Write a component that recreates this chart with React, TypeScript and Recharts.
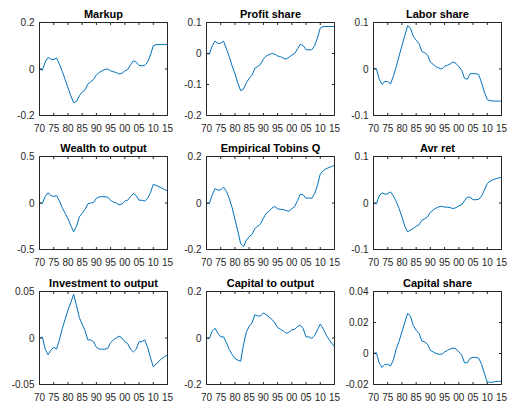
import React from 'react';
import { LineChart, Line, XAxis, YAxis } from 'recharts';

const years = [
  1970, 1971, 1972, 1973, 1974, 1975, 1976, 1977, 1978, 1979,
  1980, 1981, 1982, 1983, 1984, 1985, 1986, 1987, 1988, 1989,
  1990, 1991, 1992, 1993, 1994, 1995, 1996, 1997, 1998, 1999,
  2000, 2001, 2002, 2003, 2004, 2005, 2006, 2007, 2008, 2009,
  2010, 2011, 2012, 2013, 2014, 2015,
];
const xTicks = [1970, 1975, 1980, 1985, 1990, 1995, 2000, 2005, 2010, 2015];

const markup = [
  0, -0.005, 0.03, 0.05, 0.042, 0.04, 0.048, 0.02, -0.01, -0.045,
  -0.08, -0.115, -0.145, -0.14, -0.115, -0.1, -0.09, -0.065, -0.055, -0.045,
  -0.025, -0.015, -0.008, -0.002, 0, -0.008, -0.012, -0.015, -0.022, -0.018,
  -0.008, -0.002, 0.018, 0.035, 0.03, 0.015, 0.014, 0.015, 0.03, 0.06,
  0.1, 0.105, 0.105, 0.105, 0.105, 0.105,
];
const profitShare = [
  0, -0.002, 0.025, 0.04, 0.033, 0.033, 0.04, 0.015, -0.01, -0.04,
  -0.065, -0.095, -0.12, -0.115, -0.095, -0.08, -0.07, -0.048, -0.042, -0.035,
  -0.018, -0.008, -0.004, 0, -0.002, -0.008, -0.01, -0.015, -0.018, -0.012,
  -0.005, 0, 0.015, 0.03, 0.025, 0.012, 0.012, 0.012, 0.025, 0.05,
  0.082, 0.087, 0.087, 0.087, 0.087, 0.087,
];
const laborShare = [
  0, 0.001, -0.022, -0.033, -0.027, -0.027, -0.032, -0.015, 0.005, 0.028,
  0.05, 0.072, 0.093, 0.088, 0.07, 0.062, 0.055, 0.038, 0.035, 0.03,
  0.015, 0.01, 0.005, 0.002, 0, 0.006, 0.008, 0.011, 0.015, 0.012,
  0.005, -0.003, -0.02, -0.022, -0.01, -0.01, -0.01, -0.012, -0.03, -0.05,
  -0.066, -0.068, -0.069, -0.069, -0.069, -0.069,
];
const wealthToOutput = [
  0, -0.005, 0.07, 0.11, 0.08, 0.07, 0.08, 0.02, -0.05, -0.11,
  -0.17, -0.24, -0.31, -0.25, -0.15, -0.11, -0.07, -0.01, 0, 0.005,
  0.05, 0.065, 0.068, 0.068, 0.06, 0.03, 0.01, 0, -0.02, -0.01,
  0.02, 0.03, 0.07, 0.1, 0.08, 0.03, 0.03, 0.02, 0.05, 0.11,
  0.2, 0.19, 0.175, 0.16, 0.145, 0.13,
];
const tobinsQ = [
  0, -0.003, 0.035, 0.062, 0.055, 0.057, 0.068, 0.05, 0.02, -0.02,
  -0.07, -0.12, -0.175, -0.188, -0.16, -0.145, -0.135, -0.11, -0.1, -0.09,
  -0.065, -0.045, -0.035, -0.022, -0.015, -0.025, -0.027, -0.028, -0.033, -0.035,
  -0.025, -0.015, 0.01, 0.038, 0.035, 0.02, 0.022, 0.02, 0.04, 0.075,
  0.125, 0.138, 0.147, 0.152, 0.157, 0.162,
];
const avrRet = [
  0, -0.002, 0.015, 0.022, 0.019, 0.02, 0.024, 0.015, 0.003, -0.012,
  -0.03, -0.05, -0.062, -0.058, -0.055, -0.05, -0.047, -0.037, -0.034, -0.03,
  -0.02, -0.015, -0.011, -0.008, -0.007, -0.009, -0.009, -0.01, -0.012, -0.01,
  -0.006, -0.004, 0.005, 0.013, 0.012, 0.007, 0.007, 0.008, 0.015, 0.028,
  0.042, 0.047, 0.05, 0.052, 0.054, 0.055,
];
const investmentToOutput = [
  0, 0.001, -0.012, -0.018, -0.013, -0.01, -0.012, -0.002, 0.01, 0.02,
  0.03, 0.038, 0.047, 0.035, 0.022, 0.015, 0.008, -0.002, -0.002, -0.004,
  -0.01, -0.012, -0.012, -0.012, -0.011, -0.005, -0.002, 0, 0.002, 0,
  -0.004, -0.006, -0.012, -0.015, -0.012, -0.004, -0.004, -0.002, -0.01, -0.021,
  -0.031, -0.028, -0.025, -0.022, -0.02, -0.018,
];
const capitalToOutput = [
  0, -0.003, 0.03, 0.042, 0.02, 0.005, 0.005, -0.02, -0.05, -0.07,
  -0.088, -0.095, -0.1, -0.03, 0.025, 0.05, 0.065, 0.1, 0.095, 0.095,
  0.108, 0.1, 0.09, 0.08, 0.065, 0.045, 0.038, 0.03, 0.02, 0.025,
  0.035, 0.037, 0.05, 0.055, 0.04, 0.005, 0.005, -0.002, 0.01, 0.035,
  0.06, 0.04, 0.015, -0.005, -0.022, -0.038,
];
const capitalShare = [
  0, 0.0005, -0.006, -0.009, -0.007, -0.007, -0.008, -0.004, 0.003, 0.008,
  0.014, 0.02, 0.026, 0.024, 0.018, 0.015, 0.013, 0.008, 0.0075, 0.006,
  0.002, 0.001, 0, -0.0005, -0.0005, 0.001, 0.002, 0.003, 0.0035, 0.003,
  0.001, -0.001, -0.006, -0.006, -0.003, -0.0025, -0.0025, -0.003, -0.007, -0.013,
  -0.0185, -0.0185, -0.0185, -0.018, -0.018, -0.0178,
];

const titles = [
  'Markup', 'Profit share', 'Labor share',
  'Wealth to output', 'Empirical Tobins Q', 'Avr ret',
  'Investment to output', 'Capital to output', 'Capital share',
];
const seriesList = [
  markup, profitShare, laborShare,
  wealthToOutput, tobinsQ, avrRet,
  investmentToOutput, capitalToOutput, capitalShare,
];
const yDomains: [number, number][] = [
  [-0.2, 0.2], [-0.2, 0.1], [-0.1, 0.1],
  [-0.5, 0.5], [-0.2, 0.2], [-0.1, 0.1],
  [-0.05, 0.05], [-0.2, 0.2], [-0.02, 0.04],
];
const yTicksList = [
  [-0.2, 0, 0.2], [-0.2, -0.1, 0, 0.1], [-0.1, 0, 0.1],
  [-0.5, 0, 0.5], [-0.2, 0, 0.2], [-0.1, 0, 0.1],
  [-0.05, 0, 0.05], [-0.2, 0, 0.2], [-0.02, 0, 0.02, 0.04],
];

const AXIS = '#262626';
const LINE = '#0072BD';
const FONT = '"Liberation Sans", Arial, Helvetica, sans-serif';
const TL = 2.5;
const PLOT_W = 128;
const lefts = [39, 206, 373];
const tops = [22, 156, 291];

const fmtYear = (v: number) => String(v % 100).padStart(2, '0');

const BottomTick = (p: any) => (
  <g>
    <line x1={p.x} x2={p.x} y1={p.y} y2={p.y - TL} stroke={AXIS} strokeWidth={1} />
    <text x={p.x} y={p.y + 16} textAnchor="middle" fontSize={10} fill={AXIS} fontFamily={FONT}>
      {fmtYear(p.payload.value)}
    </text>
  </g>
);
const TopTick = (p: any) => (
  <line x1={p.x} x2={p.x} y1={p.y} y2={p.y + TL} stroke={AXIS} strokeWidth={1} />
);
const LeftTick = (p: any) => (
  <g>
    <line x1={p.x} x2={p.x + TL} y1={p.y} y2={p.y} stroke={AXIS} strokeWidth={1} />
    <text x={p.x - 5} y={p.y} dy="0.355em" textAnchor="end" fontSize={10} fill={AXIS} fontFamily={FONT}>
      {String(p.payload.value)}
    </text>
  </g>
);
const RightTick = (p: any) => (
  <line x1={p.x} x2={p.x - TL} y1={p.y} y2={p.y} stroke={AXIS} strokeWidth={1} />
);

function Panel({ idx }: { idx: number }) {
  const L = lefts[idx % 3];
  const T = tops[Math.floor(idx / 3)];
  const values = seriesList[idx];
  const data = years.map((year, i) => ({ year, v: values[i] }));
  const dom = yDomains[idx];
  return (
    <>
      <div
        style={{
          position: 'absolute',
          left: L,
          top: T - 13.5,
          width: PLOT_W + 1,
          textAlign: 'center',
          fontFamily: FONT,
          fontWeight: 'bold',
          fontSize: 11,
          lineHeight: '11px',
          color: '#000',
          whiteSpace: 'nowrap',
        }}
      >
        {titles[idx]}
      </div>
      <div style={{ position: 'absolute', left: L - 40, top: T - 20 }}>
        <LineChart
          width={179}
          height={136}
          data={data}
          margin={{ top: 19.5, left: 0.5, right: 9.5, bottom: 0.5 }}
        >
          <XAxis
            xAxisId="b"
            dataKey="year"
            type="number"
            domain={[1970, 2015]}
            ticks={xTicks}
            interval={0}
            height={22}
            tickSize={0}
            tickMargin={0}
            tickLine={false}
            axisLine={{ stroke: AXIS, strokeWidth: 1 }}
            tick={<BottomTick />}
          />
          <XAxis
            xAxisId="t"
            orientation="top"
            dataKey="year"
            type="number"
            domain={[1970, 2015]}
            ticks={xTicks}
            interval={0}
            height={1}
            tickSize={0}
            tickMargin={0}
            tickLine={false}
            axisLine={{ stroke: AXIS, strokeWidth: 1 }}
            tick={<TopTick />}
          />
          <YAxis
            yAxisId="l"
            type="number"
            domain={dom}
            ticks={yTicksList[idx]}
            interval={0}
            width={40}
            tickSize={0}
            tickMargin={0}
            tickLine={false}
            axisLine={{ stroke: AXIS, strokeWidth: 1 }}
            tick={<LeftTick />}
          />
          <YAxis
            yAxisId="r"
            orientation="right"
            type="number"
            domain={dom}
            ticks={yTicksList[idx]}
            interval={0}
            width={1}
            tickSize={0}
            tickMargin={0}
            tickLine={false}
            axisLine={{ stroke: AXIS, strokeWidth: 1 }}
            tick={<RightTick />}
          />
          <Line
            xAxisId="t"
            yAxisId="r"
            dataKey="v"
            type="linear"
            stroke="none"
            strokeWidth={0}
            dot={false}
            activeDot={false}
            legendType="none"
            isAnimationActive={false}
          />
          <Line
            xAxisId="b"
            yAxisId="l"
            dataKey="v"
            type="linear"
            stroke={LINE}
            strokeWidth={1}
            dot={false}
            activeDot={false}
            isAnimationActive={false}
          />
        </LineChart>
      </div>
    </>
  );
}

export default function App() {
  return (
    <div style={{ position: 'absolute', left: 0, top: 0, width: 509, height: 402, background: '#fff', overflow: 'hidden' }}>
      {titles.map((_, i) => (
        <Panel key={i} idx={i} />
      ))}
    </div>
  );
}
